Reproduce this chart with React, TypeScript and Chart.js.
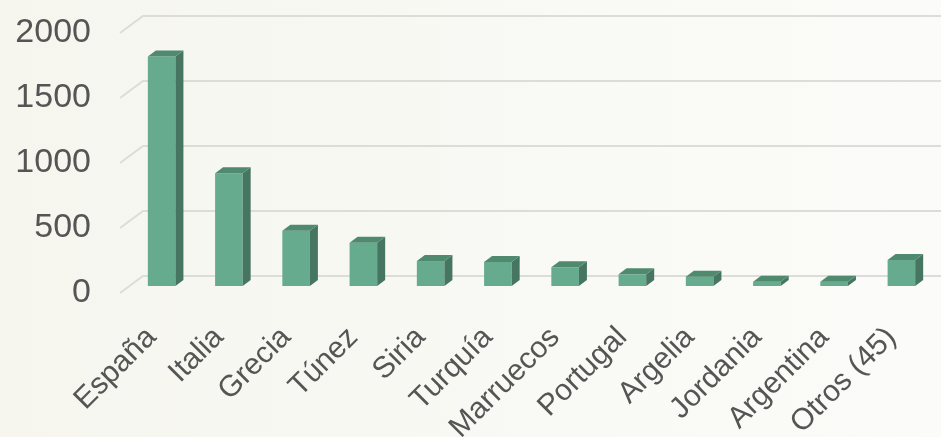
import React, { useEffect, useRef } from "react";
import { Chart, registerables } from "chart.js";

Chart.register(...registerables);

const categories = [
  "España", "Italia", "Grecia", "Túnez", "Siria", "Turquía",
  "Marruecos", "Portugal", "Argelia", "Jordania", "Argentina", "Otros (45)",
];
const values = [1765, 867, 425, 333, 192, 185, 144, 90, 72, 33, 33, 200];
const yTicks = [0, 500, 1000, 1500, 2000];

const FRONT = "#66ab8d";
const SIDE = "#467662";
const TOP = "#4f8a6e";
const GRID = "#dcdcd8";

const wallPlugin = {
  id: "wall3d",
  beforeDatasetsDraw(chart: any) {
    const { ctx } = chart;
    const y = chart.scales.y;
    const area = chart.chartArea;
    ctx.save();
    ctx.strokeStyle = GRID;
    ctx.lineWidth = 2;
    yTicks.forEach((v) => {
      const py = y.getPixelForValue(v);
      ctx.beginPath();
      ctx.moveTo(area.left - 8, py + 7);
      ctx.lineTo(area.left + 15, py - 10);
      ctx.lineTo(chart.width, py - 10);
      ctx.stroke();
    });
    ctx.restore();
  },
  afterDatasetsDraw(chart: any) {
    const { ctx } = chart;
    const meta = chart.getDatasetMeta(0);
    const dx = 8;
    const dy = 6;
    ctx.save();
    meta.data.forEach((bar: any) => {
      const { x, y, base, width } = bar.getProps(["x", "y", "base", "width"], true);
      const l = x - width / 2;
      const r = x + width / 2;
      ctx.fillStyle = SIDE;
      ctx.beginPath();
      ctx.moveTo(r, y);
      ctx.lineTo(r + dx, y - dy);
      ctx.lineTo(r + dx, base - dy);
      ctx.lineTo(r, base);
      ctx.closePath();
      ctx.fill();
      ctx.fillStyle = TOP;
      ctx.beginPath();
      ctx.moveTo(l, y);
      ctx.lineTo(l + dx, y - dy);
      ctx.lineTo(r + dx, y - dy);
      ctx.lineTo(r, y);
      ctx.closePath();
      ctx.fill();
    });
    ctx.restore();
  },
};

const bgPlugin = {
  id: "bg",
  beforeDraw(chart: any) {
    const { ctx, width, height } = chart;
    const g = ctx.createLinearGradient(0, 0, width, 0);
    g.addColorStop(0, "#f6f6ef");
    g.addColorStop(1, "#fbfbf9");
    ctx.save();
    ctx.fillStyle = g;
    ctx.fillRect(0, 0, width, height);
    ctx.restore();
  },
};

export default function App() {
  const ref = useRef<HTMLCanvasElement | null>(null);
  useEffect(() => {
    document.body.style.margin = "0";
    if (!ref.current) return;
    const chart = new Chart(ref.current, {
      type: "bar",
      data: {
        labels: categories,
        datasets: [
          {
            data: values,
            backgroundColor: FRONT,
            borderWidth: 0,
            categoryPercentage: 1,
            barPercentage: 0.41,
          },
        ],
      },
      options: {
        responsive: false,
        animation: false,
        layout: { padding: { top: 26, right: 6, left: 0, bottom: 0 } },
        plugins: { legend: { display: false }, tooltip: { enabled: false } },
        scales: {
          x: {
            grid: { display: false, drawTicks: false },
            border: { display: false },
            ticks: {
              maxRotation: 45,
              minRotation: 45,
              padding: 34,
              labelOffset: -10,
              color: "#555555",
              font: { family: "'Liberation Sans', Arial, sans-serif", size: 30 },
            },
            afterFit(scale: any) {
              scale.height = 151;
              scale.paddingLeft = 0;
              scale.paddingRight = 0;
            },
          },
          y: {
            min: 0,
            max: 2000,
            grid: { display: false, drawTicks: false },
            border: { display: false },
            ticks: {
              stepSize: 500,
              padding: 37,
              labelOffset: 7,
              color: "#555555",
              font: { family: "'Liberation Sans', Arial, sans-serif", size: 34 },
              callback: (v: any) => String(v),
            },
            afterFit(scale: any) {
              scale.width = 128;
              scale.paddingTop = 0;
              scale.paddingBottom = 0;
            },
          },
        },
      },
      plugins: [bgPlugin, wallPlugin],
    });
    return () => chart.destroy();
  }, []);
  return (
    <div style={{ position: "absolute", left: 0, top: 0, width: 941, height: 437 }}>
      <canvas ref={ref} width={941} height={437} />
    </div>
  );
}
